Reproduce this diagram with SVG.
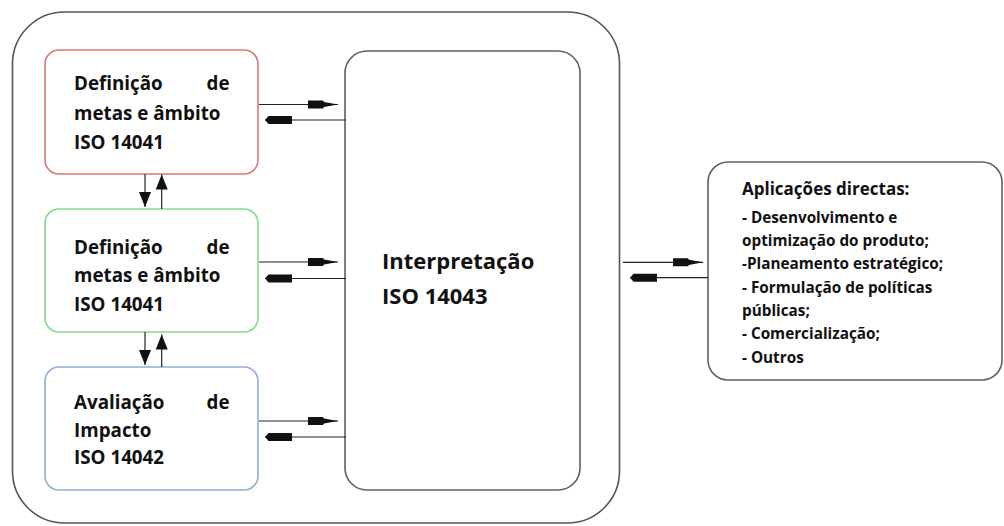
<svg xmlns="http://www.w3.org/2000/svg" width="1004" height="526" viewBox="0 0 1004 526">
  <style>
    .bg { fill: #ffffff; }
    .outer { fill: #ffffff; stroke: #555555; stroke-width: 1.6; }
    .box { fill: #ffffff; stroke-width: 1.6; }
    .red { stroke: #e07377; }
    .green { stroke: #86da86; }
    .blue { stroke: #93acd8; }
    .gray { stroke: #606060; }
    .t { font-family: "Open Sans", "Liberation Sans", sans-serif; font-weight: 700; fill: #111111; }
    .t19 { font-size: 18.8px; }
    .t22 { font-size: 22px; }
    .t17 { font-size: 17px; }
    .t15 { font-size: 15.3px; }
    .conn line { stroke: #222222; stroke-width: 1.2; fill: none; }
    .hr { marker-end: url(#headR); }
    .hl { marker-end: url(#headL); }
    .hv { marker-end: url(#tri); }
  </style>
  <defs>
    <marker id="headR" markerUnits="userSpaceOnUse" orient="auto" refX="0" refY="0" markerWidth="32" markerHeight="12" overflow="visible">
      <path d="M0,0 L-14,-2.6 L-15,-4 L-30,-4 L-30,4 L-15,4 L-14,2.6 Z" fill="#111111"/>
    </marker>
    <marker id="headL" markerUnits="userSpaceOnUse" orient="auto" refX="0" refY="0" markerWidth="32" markerHeight="12" overflow="visible">
      <path d="M0,0 L-3.5,-4 L-27,-4 L-27,4 L-3.5,4 Z" fill="#111111"/>
    </marker>
    <marker id="tri" markerUnits="userSpaceOnUse" orient="auto" refX="0" refY="0" markerWidth="16" markerHeight="14" overflow="visible">
      <path d="M0,0 L-15,-6 L-15,6 Z" fill="#111111"/>
    </marker>
  </defs>
  <rect class="bg" x="0" y="0" width="1004" height="526"/>

  <g id="container">
    <rect class="outer" x="12.5" y="12" width="607" height="511" rx="52" ry="52"/>
  </g>

  <g id="node-definicao-1">
    <rect class="box red" x="45" y="50" width="213" height="124" rx="14" ry="14"/>
    <text class="t t19" x="74" y="90">Definição<tspan x="206.5">de</tspan></text>
    <text class="t t19" x="74" y="119.5">metas e âmbito</text>
    <text class="t t19" x="74" y="149">ISO 14041</text>
  </g>

  <g id="node-definicao-2">
    <rect class="box green" x="45" y="209" width="213" height="123" rx="14" ry="14"/>
    <text class="t t19" x="74" y="254">Definição<tspan x="206.5">de</tspan></text>
    <text class="t t19" x="74" y="282">metas e âmbito</text>
    <text class="t t19" x="74" y="310.5">ISO 14041</text>
  </g>

  <g id="node-avaliacao">
    <rect class="box blue" x="45" y="367" width="213" height="123" rx="14" ry="14"/>
    <text class="t t19" x="74" y="409">Avaliação<tspan x="206.5">de</tspan></text>
    <text class="t t19" x="74" y="436.5">Impacto</text>
    <text class="t t19" x="74" y="464">ISO 14042</text>
  </g>

  <g id="node-interpretacao">
    <rect class="box gray" x="345" y="51" width="235" height="439" rx="22" ry="22"/>
    <text class="t t22" x="382" y="269">Interpretação</text>
    <text class="t t22" x="382" y="304">ISO 14043</text>
  </g>

  <g id="node-aplicacoes">
    <rect class="box gray" x="708" y="162" width="294" height="218" rx="20" ry="20"/>
    <text class="t t17" x="742" y="195">Aplicações directas:</text>
    <text class="t t15" x="742" y="222.7">- Desenvolvimento e</text>
    <text class="t t15" x="742" y="246">optimização do produto;</text>
    <text class="t t15" x="742" y="269.3">-Planeamento estratégico;</text>
    <text class="t t15" x="742" y="292.6">- Formulação de políticas</text>
    <text class="t t15" x="742" y="316">públicas;</text>
    <text class="t t15" x="742" y="339.3">- Comercialização;</text>
    <text class="t t15" x="742" y="362.6">- Outros</text>
  </g>

  <g id="connectors" class="conn">
    <!-- red box <-> interpretation -->
    <line class="hr" x1="259" y1="104.5" x2="338" y2="104.5"/>
    <line class="hl" x1="346" y1="120" x2="265" y2="120"/>
    <!-- green box <-> interpretation -->
    <line class="hr" x1="259" y1="262" x2="338" y2="262"/>
    <line class="hl" x1="346" y1="278.5" x2="265" y2="278.5"/>
    <!-- blue box <-> interpretation -->
    <line class="hr" x1="259" y1="421" x2="338" y2="421"/>
    <line class="hl" x1="346" y1="437" x2="265" y2="437"/>
    <!-- red <-> green -->
    <line class="hv" x1="145" y1="174" x2="145" y2="207"/>
    <line class="hv" x1="161.7" y1="209" x2="161.7" y2="174.5"/>
    <!-- green <-> blue -->
    <line class="hv" x1="145" y1="332" x2="145" y2="365"/>
    <line class="hv" x1="161.7" y1="367" x2="161.7" y2="334.5"/>
    <!-- interpretation <-> aplicacoes -->
    <line class="hr" x1="623" y1="262.3" x2="703" y2="262.3"/>
    <line class="hl" x1="708" y1="277.7" x2="630" y2="277.7"/>
  </g>
</svg>
